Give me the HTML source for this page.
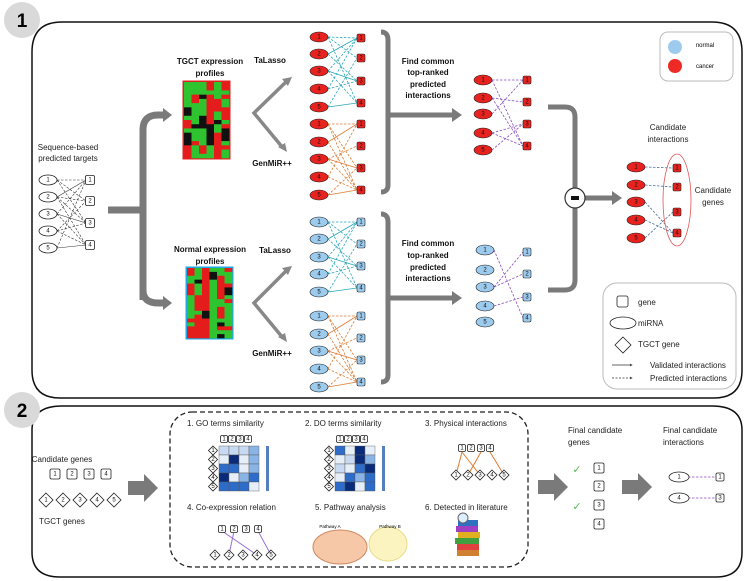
<!DOCTYPE html>
<html><head><meta charset="utf-8"><style>
body{margin:0;background:#fff}
svg{display:block;font-family:"Liberation Sans",sans-serif}
.r{fill:#e8231f;stroke:#222;stroke-width:.6}
.b{fill:#9ccbee;stroke:#222;stroke-width:.6}
.w{fill:#fff;stroke:#222;stroke-width:.8}
.n{font-size:6px;text-anchor:middle;dominant-baseline:central;fill:#111}
.t{font-size:8px;fill:#222}
.tb{font-size:8px;font-weight:bold;fill:#111;text-anchor:middle}
.c{text-anchor:middle}
</style></head><body>
<svg id="s" width="750" height="581" viewBox="0 0 750 581">
<defs>
<marker id="ah" markerWidth="4" markerHeight="4" refX="3" refY="2" orient="auto"><path d="M0,0L4,2L0,4z" fill="#444"/></marker>
</defs>
<path d="M62,22 H712 Q742,22 742,52 V370 Q742,398 714,398 H60 Q32,398 32,370 V52 Q32,22 62,22Z" fill="none" stroke="#111" stroke-width="1.5"/>
<path d="M62,406 H712 Q742,406 742,430 V552 Q742,577 716,577 H60 Q32,577 32,552 V430 Q32,406 62,406Z" fill="none" stroke="#111" stroke-width="1.5"/>
<circle cx="22" cy="20" r="18" fill="#d9d9d9"/><text x="22" y="27" font-size="19" font-weight="bold" class="c">1</text>
<circle cx="22" cy="410" r="18" fill="#d9d9d9"/><text x="22" y="417" font-size="19" font-weight="bold" class="c">2</text>

<g id="edges"></g>
<g id="heat"></g>

<g fill="none" stroke="#7a7a7a" stroke-width="7">
<path d="M108,210 H143"/>
<path d="M143,300 V130 Q143,115 158,115 H163"/>
<path d="M143,210 V290 Q143,303 158,303 H163"/>
</g>
<g fill="none" stroke="#7a7a7a" stroke-width="5">
<path d="M381,32 Q388,32 388,40 V185 Q388,192 381,192 M388,115 H452 M381,214 Q388,214 388,222 V375 Q388,382 381,382 M388,298 H452"/>
<path d="M548,107 H565 Q575,107 575,117 V280 Q575,290 565,290 H548"/>
<path d="M585,198 H612"/>
</g>
<g fill="#7a7a7a">
<path d="M163,108 L172,115 L163,122Z"/><path d="M163,296 L172,303 L163,310Z"/>
<path d="M452,108 L462,115 L452,122Z"/><path d="M452,291 L462,298 L452,305Z"/>
<path d="M612,191 L622,198 L612,205Z"/>
<path d="M128,481 H144 V474 L158,488 L144,502 V495 H128Z"/>
<path d="M538,480 H554 V473 L568,487 L554,501 V494 H538Z"/>
<path d="M622,480 H638 V473 L652,487 L638,501 V494 H622Z"/>
</g>
<circle cx="575" cy="198" r="10" fill="#fff" stroke="#333" stroke-width="1.2"/><rect x="571" y="196" width="8" height="4" fill="#111"/>
<g stroke="#888" stroke-width="3.5" fill="none">
<path d="M288,80 L254,113 L283,148"/><path d="M288,269 L254,303 L283,338"/>
</g>
<g fill="#888"><path d="M292,77 L282,79 L288,86Z"/><path d="M287,152 L278,147 L285,143Z"/><path d="M292,266 L282,268 L288,275Z"/><path d="M287,342 L278,337 L285,333Z"/></g>

<text x="68" y="150" class="t c">Sequence-based</text><text x="68" y="161" class="t c">predicted targets</text>
<text x="210" y="64" class="tb">TGCT expression</text><text x="210" y="76" class="tb">profiles</text>
<text x="210" y="252" class="tb">Normal expression</text><text x="210" y="264" class="tb">profiles</text>
<text x="270" y="63" class="tb">TaLasso</text><text x="272" y="166" class="tb">GenMiR++</text>
<text x="275" y="253" class="tb">TaLasso</text><text x="272" y="356" class="tb">GenMiR++</text>
<text x="428" y="64" class="tb">Find common</text><text x="428" y="75" class="tb">top-ranked</text><text x="428" y="87" class="tb">predicted</text><text x="428" y="98" class="tb">interactions</text>
<text x="428" y="246" class="tb">Find common</text><text x="428" y="258" class="tb">top-ranked</text><text x="428" y="270" class="tb">predicted</text><text x="428" y="281" class="tb">interactions</text>
<text x="668" y="130" class="t c">Candidate</text><text x="668" y="142" class="t c">interactions</text>
<text x="713" y="193" class="t c">Candidate</text><text x="713" y="205" class="t c">genes</text>
<ellipse cx="677" cy="200" rx="14" ry="46" fill="none" stroke="#d55" stroke-width=".8"/>

<rect x="660" y="32" width="73" height="49" rx="8" fill="#fff" stroke="#bbb"/>
<circle cx="675" cy="47" r="7" fill="#9ccbee"/><circle cx="675" cy="66" r="7" fill="#ee2a24"/>
<text x="705" y="47" font-size="6" class="c">normal</text><text x="705" y="68" font-size="6" class="c">cancer</text>
<rect x="603" y="283" width="133" height="106" rx="14" fill="#fff" stroke="#bbb"/>
<rect x="617" y="296" width="11" height="11" rx="2" class="w"/><text x="638" y="305" class="t" font-size="7">gene</text>
<ellipse cx="623" cy="323" rx="13" ry="6" class="w"/><text x="638" y="326" class="t" font-size="7">miRNA</text>
<path d="M623,337 L631,345 L623,353 L615,345Z" class="w"/><text x="638" y="347" class="t" font-size="7">TGCT gene</text>
<path d="M612,365 H632" stroke="#333" stroke-width=".7" marker-end="url(#ah)"/><text x="650" y="368" class="t" font-size="7">Validated  interactions</text>
<path d="M612,378 H632" stroke="#333" stroke-width=".7" stroke-dasharray="2,1.5" marker-end="url(#ah)"/><text x="650" y="381" class="t" font-size="7">Predicted  interactions</text>

<g id="nodes"></g>

<text x="62" y="462" class="t c">Candidate genes</text>
<text x="62" y="524" class="t c">TGCT genes</text>
<rect x="170" y="412" width="358" height="155" rx="22" fill="none" stroke="#222" stroke-width="1.3" stroke-dasharray="5,3"/>
<text x="187" y="426" class="t" font-size="7">1. GO terms similarity</text>
<text x="305" y="426" class="t" font-size="7">2. DO terms similarity</text>
<text x="425" y="426" class="t" font-size="7">3. Physical  interactions</text>
<text x="187" y="510" class="t" font-size="7">4. Co-expression relation</text>
<text x="315" y="510" class="t" font-size="7">5. Pathway analysis</text>
<text x="425" y="510" class="t" font-size="7">6. Detected in literature</text>
<text x="568" y="433" class="t">Final candidate</text><text x="568" y="445" class="t">genes</text>
<text x="663" y="433" class="t">Final candidate</text><text x="663" y="445" class="t">interactions</text>
<text x="577" y="473" font-size="11" fill="#5b5" class="c">✓</text><text x="577" y="510" font-size="11" fill="#5b5" class="c">✓</text>
<ellipse cx="340" cy="547" rx="27" ry="17" fill="#f6c8a8" stroke="#d08860"/>
<ellipse cx="388" cy="544" rx="19" ry="17" fill="#fbf4c0" stroke="#e8dc88"/>
<text x="330" y="528" font-size="4.5" class="c">Pathway A</text><text x="390" y="528" font-size="4.5" class="c">Pathway B</text>
<g transform="translate(457,524)">
<rect x="0" y="20" width="22" height="6" fill="#e04040"/><rect x="-2" y="14" width="24" height="6" fill="#40a040"/><rect x="1" y="8" width="22" height="6" fill="#e0b020"/><rect x="-1" y="2" width="22" height="6" fill="#a040c0"/><rect x="1" y="-4" width="20" height="6" fill="#3070c0"/><rect x="0" y="26" width="22" height="6" fill="#d08030"/>
<circle cx="6" cy="-6" r="5" fill="#ddeeff" stroke="#666"/></g>
</svg>
<script>
var NS="http://www.w3.org/2000/svg",s=document.getElementById('s');
function el(p,t,a){var e=document.createElementNS(NS,t);for(var k in a)e.setAttribute(k,a[k]);p.appendChild(e);return e;}
var E=document.getElementById('edges'),N=document.getElementById('nodes'),H=document.getElementById('heat');
function ln(x1,y1,x2,y2,c,d,w){el(E,'line',{x1:x1,y1:y1,x2:x2,y2:y2,stroke:c,'stroke-width':w||.8,'stroke-dasharray':d?'2.5,1.5':'none'});}
function ell(x,y,cls,lab,rx,ry){el(N,'ellipse',{cx:x,cy:y,rx:rx||9,ry:ry||5,'class':cls});var t=el(N,'text',{x:x,y:y+.3,'class':'n'});t.textContent=lab;}
function sq(x,y,cls,lab,sz){sz=sz||8;el(N,'rect',{x:x-sz/2,y:y-sz/2,width:sz,height:sz,rx:1.5,'class':cls});var t=el(N,'text',{x:x,y:y+.3,'class':'n'});t.textContent=lab;}
function dia(x,y,lab,sz){sz=sz||6;el(N,'path',{d:'M'+x+','+(y-sz)+'L'+(x+sz)+','+y+'L'+x+','+(y+sz)+'L'+(x-sz)+','+y+'Z','class':'w'});var t=el(N,'text',{x:x,y:y+.3,'class':'n','font-size':5});t.textContent=lab;}
function bip(ex,eys,sx,sys,cls,col,pairs){
 pairs.forEach(function(p){ln(ex+9,eys[p[0]],sx-4,sys[p[1]],col,!p[2]);});
 eys.forEach(function(y,i){ell(ex,y,cls,i+1);});sys.forEach(function(y,i){sq(sx,y,cls,i+1);});}
var P1=[[0,0],[0,1],[1,0,1],[1,2],[2,2,1],[2,3],[3,0],[3,2],[4,3,1],[4,1],[0,3],[2,0]];
var P2=[[0,0],[0,2],[1,0,1],[1,3],[2,2,1],[2,1],[3,3],[3,0],[4,3,1],[4,2],[0,3],[2,3]];
bip(319,[37,54,71,89,107],361,[38,58,81,103],'r','#2aa8b8',P1);
bip(319,[124,142,159,177,195],361,[124,146,168,190],'r','#e07a30',P2);
bip(319,[222,239,257,274,292],361,[222,244,266,288],'b','#2aa8b8',P1);
bip(319,[316,334,351,369,387],361,[316,338,360,382],'b','#e07a30',P2);
bip(483,[80,98,114,133,150],527,[80,102,124,146],'r','#8a4fc0',[[0,0],[0,3],[1,1],[2,0],[3,2],[3,3],[4,2],[1,3]]);
bip(485,[250,270,287,306,322],527,[252,274,297,318],'b','#8a4fc0',[[0,3],[2,0],[2,1],[3,2]]);
bip(636,[167,185,202,220,238],677,[168,187,212,233],'r','#4a6fa0',[[0,0],[1,1],[2,3],[3,3],[4,2]]);
var ey=[180,197,214,231,248],sy=[180,201,223,245];
[[0,0],[0,1],[0,2],[1,0,1],[1,1],[1,3],[2,2,1],[2,0],[2,3],[3,1],[3,2],[4,3,1],[4,0],[1,2],[3,3]].forEach(function(p){ln(57,ey[p[0]],86,sy[p[1]],'#333',!p[2],.6);});
ey.forEach(function(y,i){ell(48,y,'w',i+1);});sy.forEach(function(y,i){sq(90,y,'w',i+1,9);});
function heat(x,y,w,h,bc,seed,bias){el(H,'rect',{x:x-1.5,y:y-1.5,width:w+3,height:h+3,fill:bc});var r=seed;function rnd(){r=(r*9301+49297)%233280;return r/233280;}
 var cw=w/6,ch=h/18;for(var i=0;i<6;i++){var prev=null;for(var j=0;j<18;j++){var v=rnd();var g=bias(i,j);var c=v<g?'#2fc42f':(v<g+0.12?'#111':'#e51c1c');if(prev&&rnd()<.35)c=prev;prev=c;el(H,'rect',{x:x+i*cw,y:y+j*ch,width:cw+.3,height:ch+.3,fill:c});}}}
heat(184,82,45,76,'#e02020',3,function(i,j){return i<3?0.6:0.3;});
heat(187,268,45,70,'#20a8e8',7,function(i,j){return i<3?0.25:0.65;});
[55,72,89,106].forEach(function(x,i){sq(x,474,'w',i+1,10);});
[46,63,80,97,114].forEach(function(x,i){dia(x,500,i+1,7);});
[599,599,599,599].forEach(function(x,i){sq(x,[468,486,505,524][i],'w',i+1,10);});
ln(688,477,715,477,'#8a4fc0',1);ln(688,498,715,498,'#8a4fc0',1);
ell(679,477,'w',1,10,5);ell(679,498,'w',4,10,5);sq(720,477,'w',1);sq(720,498,'w',3);
function mat(x,y,seed){var r=seed;function rnd(){r=(r*9301+49297)%233280;return r/233280;}
 var cols=['#0a2a7a','#2d6cc8','#8ab4e6','#c8daf2','#e6eef8'];
 for(var i=0;i<4;i++)for(var j=0;j<5;j++)el(H,'rect',{x:x+i*10,y:y+j*9,width:10,height:9,fill:cols[Math.floor(rnd()*5)],stroke:'#555','stroke-width':.4});
 for(var i=0;i<4;i++)sq(x+5+i*8,y-7,'w',i+1,7);for(var j=0;j<5;j++)dia(x-6,y+4.5+j*9,j+1,4.5);
 el(H,'rect',{x:x+47,y:y,width:3,height:45,fill:'#5580c0'});}
mat(219,446,11);mat(335,446,29);
var tx=[462,471,481,490],dx=[456,468,480,492,504];
[[0,0],[0,2],[2,1],[3,4]].forEach(function(p){ln(tx[p[0]],452,dx[p[1]],475,'#e07a30',false,1);});
tx.forEach(function(x,i){sq(x,448,'w',i+1,7);});dx.forEach(function(x,i){dia(x,475,i+1,5);});
var cx=[222,234,246,258],cdx=[215,229,243,257,271];
[[0,3],[1,1],[3,4]].forEach(function(p){ln(cx[p[0]],531,cdx[p[1]],555,'#9b6fd6',false,1);});
cx.forEach(function(x,i){sq(x,529,'w',i+1,7);});cdx.forEach(function(x,i){dia(x,555,i+1,5);});
sq(330,538,'w',3,7);sq(341,538,'w',4,7);dia(352,539,2,4.5);dia(332,553,4,4.5);dia(347,553,5,4.5);sq(381,541,'w',1,7);dia(388,549,5,4.5);
</script>
</body></html>
